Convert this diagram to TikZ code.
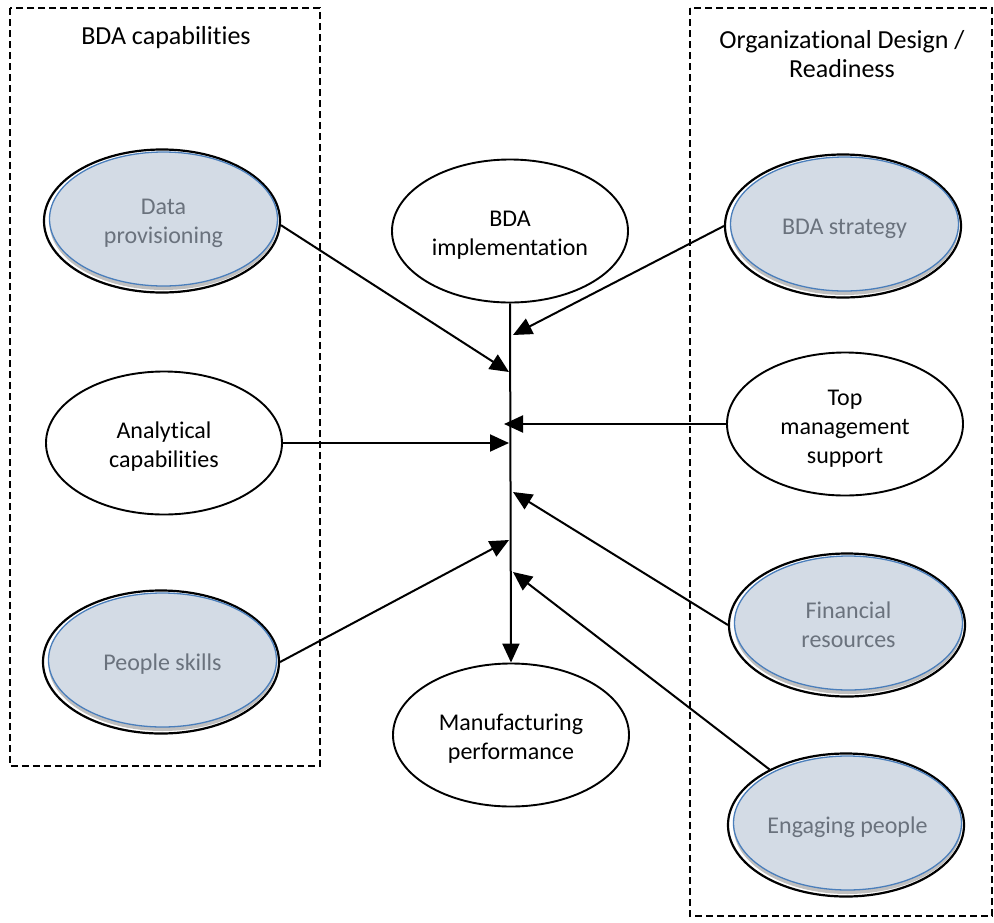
\documentclass[tikz,border=0pt]{standalone}
\usepackage{fontspec}
\setmainfont{Carlito}[Ligatures={NoCommon}]
\usetikzlibrary{arrows.meta,shapes.geometric}
\definecolor{fillblue}{HTML}{D3DBE5}
\definecolor{edgeblue}{HTML}{4A7EBB}
\definecolor{txtgrey}{HTML}{6A727D}
\newcommand{\elltext}[1]{\raisebox{-4.5pt}[\height][\depth]{\begin{tabular}{@{}c@{}}#1\end{tabular}}}
\begin{document}
\begin{tikzpicture}[x=1pt,y=-1pt,
 ellfont/.style={font=\fontsize{24}{29}\selectfont},
 whiteell/.style={ellipse,draw=black,line width=1.9pt,fill=white,minimum width=236pt,minimum height=143pt,inner sep=0pt,ellfont},
 ringell/.style={ellipse,draw=black,line width=2.2pt,fill=white,minimum width=236pt,minimum height=143pt,inner sep=0pt},
 innerell/.style={ellipse,draw=edgeblue,line width=1.3pt,fill=fillblue,minimum width=228pt,minimum height=134pt,inner sep=0pt,text=txtgrey,ellfont},
 shadeell/.style={ellipse,fill=black!25,minimum width=228pt,minimum height=134pt,inner sep=0pt},
 dashbox/.style={draw,line width=1.8pt,dash pattern=on 7pt off 4pt},
 conn/.style={line width=2pt,-{Triangle[length=19pt,width=17pt]}},
 titletext/.style={align=center,font=\fontsize{26}{29}\selectfont}
]
\useasboundingbox (0,0) rectangle (994,922);
% dashed group boxes
\draw[dashbox] (10,8) rectangle (320,766);
\draw[dashbox] (690,8) rectangle (992,916);
\node[titletext] (t1) at (166,38) {BDA capabilities};
\node[titletext] (t2) at (842,54) {Organizational Design /\\Readiness};
% shadowed ellipses
\foreach \nm/\cx/\cy/\txt in {dp/162/221/{Data\\provisioning}, ps/161/662/{People skills}, bs/843/226/{BDA strategy}, fr/847/625/{Financial\\resources}, ep/846/825/{Engaging people}}{
  \node[ringell] (\nm) at (\cx,\cy) {};
  \node[shadeell] (\nm s) at ([xshift=1.5pt,yshift=-2pt]\nm.center) {};
  \node[innerell] (\nm i) at ([xshift=1.5pt,yshift=2pt]\nm.center) {\elltext{\txt}};
}
% plain ellipses
\node[whiteell] (impl) at (510,231) {\elltext{BDA\\implementation}};
\node[whiteell] (ac) at (164,443) {\elltext{Analytical\\capabilities}};
\node[whiteell] (tm) at (845,424) {\elltext{Top\\management\\support}};
\node[whiteell] (mp) at (511,735) {\elltext{Manufacturing\\performance}};
% connector points on the spine
\coordinate (c1) at (509,372);
\coordinate (c2) at (509,443);
\coordinate (c3) at (509,540);
\coordinate (c4) at (513,335);
\coordinate (c5) at (504,424);
\coordinate (c6) at (513,492);
\coordinate (c7) at (513,572);
\draw[conn] (impl.south) -- (mp.north);
\draw[conn] (dp.-2.4) -- (c1);
\draw[conn] (ac.east) -- (c2);
\draw[conn] (ps.east) -- (c3);
\draw[conn] (bs.west) -- (c4);
\draw[conn] (tm.west) -- (c5);
\draw[conn] (fr.west) -- (c6);
\draw[conn] (ep.144.5) -- (c7);
\end{tikzpicture}
\end{document}
